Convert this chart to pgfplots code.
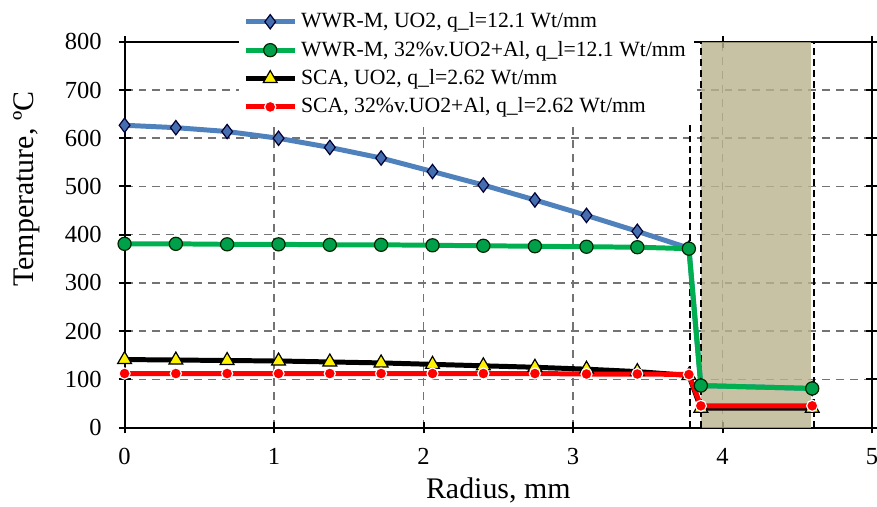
\documentclass[border=0pt]{standalone}
\usepackage{pgfplots}
\pgfplotsset{compat=1.18}
\usepackage{fontspec}
\setmainfont{Liberation Serif}

\definecolor{blueline}{RGB}{79,129,189}
\definecolor{bluemark}{RGB}{68,110,175}
\definecolor{greenline}{RGB}{0,176,80}
\definecolor{greenmark}{RGB}{0,160,75}
\definecolor{shade}{RGB}{186,179,143}

% radius (mm), temperature (C)
\pgfplotstableread{
r      t
0      627
0.343  622
0.686  614
1.03   600
1.373  581
1.716  559
2.06   531
2.4    503
2.745  472
3.09   440
3.43   407
3.775  372
3.855  87
4.6    81
}\wwruo

\pgfplotstableread{
r      t
0      381
0.343  381
0.686  380
1.03   380
1.373  379
1.716  379
2.06   378
2.4    377
2.745  376
3.09   375
3.43   374
3.775  371
3.855  87
4.6    81
}\wwral

\pgfplotstableread{
r      t
0      141
0.343  140
0.686  139
1.03   138
1.373  136
1.716  134
2.06   131
2.4    128
2.745  125
3.09   121
3.43   116
3.775  108
3.855  40
4.6    40
}\scauo

\pgfplotstableread{
r      t
0      112
0.343  112
0.686  112
1.03   112
1.373  112
1.716  112
2.06   112
2.4    112
2.745  112
3.09   111
3.43   111
3.775  110
3.855  45
4.6    45
}\scaal

\begin{document}
\begin{tikzpicture}
\begin{axis}[
  name=ax,
  scale only axis,
  width=375bp, height=193.5bp,
  xmin=0, xmax=5, ymin=0, ymax=800,
  xtick={0,1,2,3,4,5}, ytick={0,100,...,800},
  grid=major,
  major grid style={black!55, line width=0.8bp, dash pattern=on 4bp off 3bp},
  axis line style={line width=1bp},
  tick align=center, major tick length=6bp,
  tick style={black, line width=1bp},
  clip=false,
  /pgf/number format/assume math mode=true,
  tick label style={font=\fontsize{12.3bp}{14bp}\selectfont},
  yticklabel style={xshift=-5bp},
  xticklabel style={yshift=-4bp},
  xlabel={Radius, mm},
  ylabel={Temperature, ºC},
  label style={font=\fontsize{15bp}{17bp}\selectfont},
  xlabel style={at={(axis description cs:0.5,-0.162)}, anchor=center},
  ylabel style={at={(axis description cs:-0.131,0.618)}, anchor=center},
  legend style={at={(0.153,1.092)}, anchor=north west, draw=none, fill=white,
    font=\fontsize{10.9bp}{13bp}\selectfont, row sep=1.2bp, inner xsep=2bp, inner ysep=1bp},
  legend cell align=left,
  legend image code/.code={\draw[mark repeat=2,mark phase=2] plot coordinates {(0bp,0bp) (12.25bp,0bp) (24.5bp,0bp)};},
]
\addplot[forget plot, draw=none, fill=shade, fill opacity=0.8] coordinates {(3.855,0) (3.855,800) (4.593,800) (4.593,0)} -- cycle;
\addplot[forget plot, black, line width=1bp, dash pattern=on 3.5bp off 2bp] coordinates {(3.78,0) (3.78,800)};
\addplot[forget plot, black, line width=1bp, dash pattern=on 3.5bp off 2bp] coordinates {(3.855,0) (3.855,800)};
\addplot[forget plot, black, line width=1bp, dash pattern=on 3.5bp off 2bp] coordinates {(4.61,0) (4.61,800)};

\addplot[blueline, line width=2.5bp, mark=diamond*, mark size=3.6bp,
  mark options={fill=bluemark, draw=black!80!blue, line width=0.6bp}] table[x=r,y=t] {\wwruo};
\addlegendentry{WWR-M, UO2, q\_l=12.1 Wt/mm}
\addplot[greenline, line width=2.5bp, mark=*, mark size=3.3bp,
  mark options={fill=greenmark, draw=black!85!green, line width=0.6bp}] table[x=r,y=t] {\wwral};
\addlegendentry{WWR-M, 32\%v.UO2+Al, q\_l=12.1 Wt/mm}
\addplot[black, line width=2.5bp, mark=triangle*, mark size=4bp,
  mark options={fill=yellow, draw=black, line width=0.6bp}] table[x=r,y=t] {\scauo};
\addlegendentry{SCA, UO2, q\_l=2.62 Wt/mm}
\addplot[red, line width=2.5bp, mark=*, mark size=2.8bp,
  mark options={fill=red, draw=white, line width=0.6bp}] table[x=r,y=t] {\scaal};
\addlegendentry{SCA, 32\%v.UO2+Al, q\_l=2.62 Wt/mm}
\end{axis}
\pgfresetboundingbox
\path[use as bounding box] ([xshift=-62.5bp,yshift=-39.5bp]ax.south west) rectangle ([xshift=2.5bp,yshift=21bp]ax.north east);
\end{tikzpicture}
\end{document}
